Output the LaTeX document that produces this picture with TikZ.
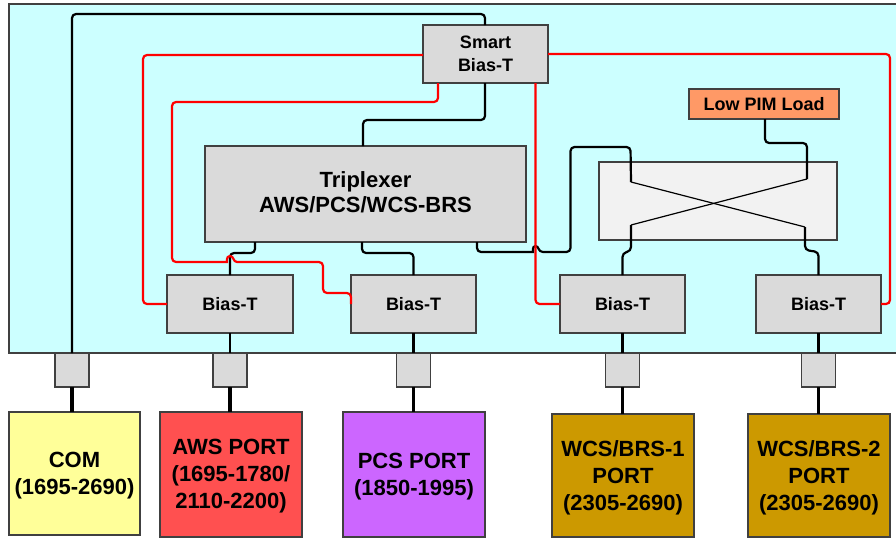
\documentclass[tikz,border=0pt]{standalone}
\usepackage{fontspec}
\setmainfont{Liberation Sans}
\definecolor{panelc}{HTML}{CCFFFF}
\definecolor{edgec}{HTML}{404040}
\definecolor{boxc}{HTML}{DADADA}
\definecolor{loadc}{HTML}{FF9966}
\definecolor{cplc}{HTML}{F2F2F2}
\definecolor{comc}{HTML}{FFFF99}
\definecolor{awsc}{HTML}{FF5050}
\definecolor{pcsc}{HTML}{CC66FF}
\definecolor{wcsc}{HTML}{CC9900}
\definecolor{redw}{HTML}{FF0000}
\newcommand{\lowr}{\rule{0pt}{20pt}}
\newcommand{\lowq}{\rule{0pt}{18pt}}
\tikzset{
  sized/.style n args={4}{minimum width=#3-#1, minimum height=#4-#2, anchor=north west, at={(#1,#2)}},
  blk/.style={draw=edgec, line width=1.2pt, inner sep=0pt, outer sep=0pt, align=center, font=\bfseries},
  gbox/.style={blk, fill=boxc, font=\fontsize{18}{22.5}\selectfont\bfseries},
  port/.style={blk, font=\fontsize{22}{27}\selectfont\bfseries},
  conn/.style={draw=edgec, fill=boxc, line width=1.2pt, inner sep=0pt, outer sep=0pt},
  bw/.style={draw=black, line width=2.2pt, rounded corners=4pt},
  rw/.style={draw=redw, line width=2.2pt, rounded corners=4pt},
  fat/.style={draw=black, line width=3.4pt},
  xw/.style={draw=black, line width=1.2pt}
}
\begin{document}
\begin{tikzpicture}[x=1pt,y=-1pt]
\useasboundingbox (0,0) rectangle (896,538);
\node[blk, fill=panelc, sized={9}{4}{910}{353}] (panel) {};

\node[gbox, sized={423}{25}{548}{83}] (smart) {Smart\\Bias-T};
\node[blk, fill=boxc, font=\fontsize{22}{25}\selectfont\bfseries, sized={205}{146}{526}{242}] (trip) {Triplexer\\AWS/PCS/WCS-BRS\rule[-4pt]{0pt}{1pt}};
\node[gbox, sized={167}{275}{293}{333}] (bt1) {Bias-T};
\node[gbox, sized={351}{275}{476}{333}] (bt2) {Bias-T};
\node[gbox, sized={560}{275}{685}{333}] (bt3) {Bias-T};
\node[gbox, sized={756}{275}{881}{333}] (bt4) {Bias-T};
\node[gbox, fill=loadc, sized={689}{89}{839}{119}] (load) {Low PIM Load};
\node[blk, fill=cplc, sized={599}{162}{837}{240}] (cpl) {};

\node[conn, sized={55}{353}{89}{387}] (c0) {};
\node[conn, sized={213}{353}{247}{387}] (c1) {};
\node[conn, sized={396.5}{353}{430.5}{387}] (c2) {};
\node[conn, sized={605.5}{353}{639.5}{387}] (c3) {};
\node[conn, sized={801.5}{353}{835.5}{387}] (c4) {};

\node[port, fill=comc, sized={9}{412}{140}{535}] (pcom) {\lowr COM\\(1695-2690)};
\node[port, fill=awsc, sized={160}{412}{302}{537}] (paws) {\lowq AWS PORT\\(1695-1780/\\2110-2200)};
\node[port, fill=pcsc, sized={343}{412}{485}{537}] (ppcs) {\lowr PCS PORT\\(1850-1995)};
\node[port, fill=wcsc, sized={552}{414}{694}{537}] (pw1) {\lowr WCS/BRS-1\\PORT\\(2305-2690)};
\node[port, fill=wcsc, sized={748}{414}{890}{537}] (pw2) {\lowr WCS/BRS-2\\PORT\\(2305-2690)};

\coordinate (cA) at (631,182);
\coordinate (cB) at (805,227);
\coordinate (cC) at (807,179);
\coordinate (cD) at (631,225);

% black wires
\draw[bw] (c0.north) -- (72,14) -- (485,14) -- (smart.north -| 485,25);
\draw[bw] (smart.south -| 485,83) -- (485,120) -- (363,120) -- (trip.north -| 363,146);
\draw[bw] (trip.south -| 255,242) -- (255,253) -- (230,253) -- (bt1.north -| 230,275);
\draw[bw] (trip.south -| 362,242) -- (362,253) -- (413.5,253) -- (bt2.north);
\draw[bw] (trip.south -| 477,242) -- (477,252) -- (529,252) [sharp corners] .. controls (533,252) and (532,246) .. (535.5,246) .. controls (539,246) and (538,252) .. (543,252) [rounded corners=4pt] -- (570.5,252) -- (570.5,147) -- (630.5,147) -- (cA);
\draw[bw] (load.south -| 765,119) -- (765,143) -- (807,143) -- (cC);
\draw[bw] (cD) -- (631,251) -- (622.5,253) -- (bt3.north);
\draw[bw] (cB) -- (805,250) -- (818.5,252) -- (bt4.north);
\draw[xw] (cA) -- (cB);
\draw[xw] (cC) -- (cD);

\draw[bw, rounded corners=0pt] (bt1.south) -- (c1.north);
\draw[bw, rounded corners=0pt] (bt2.south) -- (c2.north);
\draw[bw, rounded corners=0pt] (bt3.south) -- (c3.north);
\draw[bw, rounded corners=0pt] (bt4.south) -- (c4.north);

\draw[fat] (c0.south) -- (pcom.north -| c0.south);
\draw[fat] (c1.south) -- (paws.north -| c1.south);
\draw[fat] (c2.south) -- (ppcs.north -| c2.south);
\draw[fat] (c3.south) -- (pw1.north -| c3.south);
\draw[fat] (c4.south) -- (pw2.north -| c4.south);

% red wires
\draw[rw] (smart.west |- 0,55) -- (143,55) -- (143,304) -- (bt1.west);
\draw[rw] (smart.south -| 438,83) -- (438,102) -- (172,102) -- (172,262) -- (223,262) [sharp corners] .. controls (227,262) and (226,256) .. (230,256) .. controls (234,256) and (233,262) .. (237,262) [rounded corners=4pt] -- (323,262) -- (323,293) -- (351,293) -- (bt2.west);
\draw[rw] (smart.south -| 535.5,83) -- (535.5,304) -- (bt3.west);
\draw[rw] (smart.east |- 0,54) -- (890,54) -- (890,304) -- (bt4.east);
\end{tikzpicture}
\end{document}
